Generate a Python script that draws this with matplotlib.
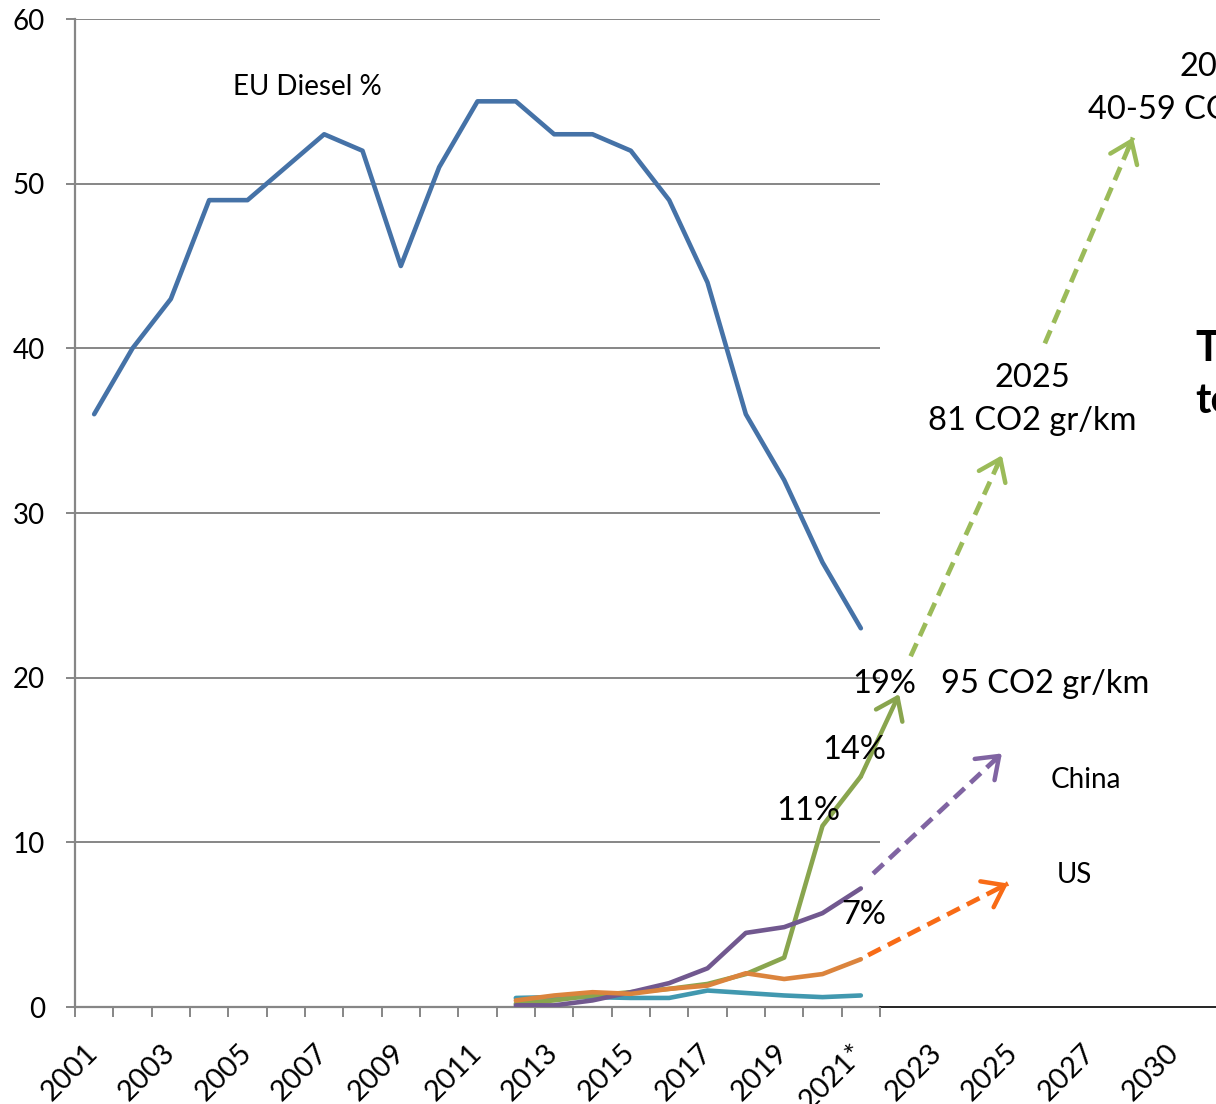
import numpy as np
import matplotlib
matplotlib.use('Agg')
import matplotlib.pyplot as plt

plt.rcParams['font.family'] = ['Lato', 'DejaVu Sans']

# yearly categories, 2001 .. 2021*
years = ['2001', '2002', '2003', '2004', '2005', '2006', '2007', '2008', '2009', '2010',
         '2011', '2012', '2013', '2014', '2015', '2016', '2017', '2018', '2019', '2020', '2021*']
# axis labels shown under the chart (every other year, then the projection years)
label_text = ['2001', '2003', '2005', '2007', '2009', '2011', '2013', '2015', '2017', '2019',
              '2021*', '2023', '2025', '2027', '2030']
label_pos = [0, 2, 4, 6, 8, 10, 12, 14, 16, 18, 20, 22, 24, 26, 28.2]

diesel = [36, 40, 43, 49, 49, 51, 53, 52, 45, 51, 55, 55, 53, 53, 52, 49, 44, 36, 32, 27, 23]

# plug-in shares from 2012 on
ev_years = years[11:]
teal = [0.55, 0.6, 0.6, 0.55, 0.55, 1.0, 0.85, 0.7, 0.6, 0.7]
eu_ev = [0.2, 0.4, 0.7, 0.9, 1.1, 1.4, 2.0, 3.0, 11, 14]
china_ev = [0.1, 0.1, 0.4, 0.9, 1.45, 2.35, 4.5, 4.85, 5.7, 7.2]
us_ev = [0.4, 0.7, 0.9, 0.8, 1.1, 1.3, 2.05, 1.7, 2.0, 2.9]
eu_2022 = 19

# projection arrows (category index, %)
eu_proj_a = [(21.3, 21.3), (23.68, 33.5)]
eu_proj_b = [(24.8, 40.3), (27.1, 52.8)]
china_proj = [(20.32, 8.1), (23.68, 15.4)]
us_proj = [(20.19, 3.15), (23.84, 7.5)]

grey = '#868686'

fig = plt.figure(figsize=(12.16, 11.04), dpi=100)
ax = fig.add_axes([75 / 1216, 97 / 1104, 1141 / 1216, 988 / 1104])
step = 805 / 21
ax.set_xlim(-0.5, 1141 / step - 0.5)
ax.set_ylim(0, 60)

for s in ['top', 'right', 'bottom']:
    ax.spines[s].set_visible(False)
ax.spines['left'].set_color(grey)
ax.spines['left'].set_linewidth(1.6)

ax.hlines(np.arange(10, 61, 10), -0.5, 20.5, color=grey, lw=1.4, zorder=1)
ax.plot([-0.5, 20.5], [0, 0], color=grey, lw=1.6, zorder=1, clip_on=False)
ax.plot([20.5, 100], [0, 0], color='black', lw=1.2, zorder=1, clip_on=False)

ax.set_yticks(np.arange(0, 61, 10))
ax.tick_params(axis='y', length=6.5, width=1.4, color=grey, pad=15, labelsize=20)
ax.set_xticks(np.arange(-0.5, 21, 1))
ax.set_xticklabels([])
ax.tick_params(axis='x', which='major', length=7, width=1.4, color=grey, direction='out')
ax.set_xticks(label_pos, label_text, minor=True)
ax.tick_params(axis='x', which='minor', length=0, pad=30, labelsize=21)
for t in ax.get_xticklabels(minor=True):
    t.set_rotation(45)
    t.set_ha('right')
    t.set_va('center')
    t.set_rotation_mode('anchor')

x_all = np.arange(len(years))
x_ev = np.arange(11, 21)
lw = 3.3
kw = dict(lw=lw, solid_capstyle='round', solid_joinstyle='round', zorder=3)
ax.plot(x_all, diesel, color='#4572A7', **kw)
ax.plot(x_ev, teal, color='#4198AF', **kw)
ax.plot(x_ev, eu_ev, color='#89A54E', **kw)
ax.plot(x_ev, china_ev, color='#71588F', **kw)
ax.plot(x_ev, us_ev, color='#DB843D', **kw)

head = '->, head_length=1.3, head_width=0.95'


def arrow(p0, p1, color, dashed=True):
    p0 = np.array(p0)
    p1 = np.array(p1)
    if dashed:
        ax.plot([p0[0], p1[0]], [p0[1], p1[1]], color=color, lw=3.4,
                ls=(0, (3, 1.7)), zorder=3)
        back = p1 - (p1 - p0) * 0.06
    else:
        back = p0
    ax.annotate('', xy=p1, xytext=back, zorder=4,
                arrowprops=dict(arrowstyle=head, color=color, lw=3.2,
                                mutation_scale=11, shrinkA=0, shrinkB=0))


arrow((20, eu_ev[-1]), (21, eu_2022), '#89A54E', dashed=False)
arrow(*eu_proj_a, '#9BBB59')
arrow(*eu_proj_b, '#9BBB59')
arrow(*china_proj, '#8064A2')
arrow(*us_proj, '#F86B16')

fs_big = 23.5
fs_small = 20
ax.text(5.55, 55.9, 'EU Diesel %', fontsize=fs_small, ha='center', va='center')
ax.text(20.6, 19.6, '19%', fontsize=fs_big, ha='center', va='center', zorder=5)
ax.text(19.83, 15.6, '14%', fontsize=fs_big, ha='center', va='center', zorder=5)
ax.text(18.63, 11.9, '11%', fontsize=fs_big, ha='center', va='center', zorder=5)
ax.text(20.07, 5.6, '7%', fontsize=fs_big, ha='center', va='center', zorder=5)
ax.text(24.82, 19.6, '95 CO2 gr/km', fontsize=fs_big, ha='center', va='center')
ax.text(25.88, 13.8, 'China', fontsize=fs_small, ha='center', va='center')
ax.text(25.56, 8.0, 'US', fontsize=fs_small, ha='center', va='center')
ax.text(24.47, 36.9, '2025\n81 CO2 gr/km', fontsize=fs_big, ha='center', va='center',
        linespacing=1.55)
ax.text(29.3, 55.8, '2030\n40-59 CO2 gr/km', fontsize=fs_big, ha='center', va='center',
        linespacing=1.55, clip_on=False)
ax.text(28.72, 38.4, 'T\nte', fontsize=30, fontweight='bold', ha='left', va='center',
        linespacing=1.45, clip_on=False)

fig.savefig('out.png', dpi=100)
